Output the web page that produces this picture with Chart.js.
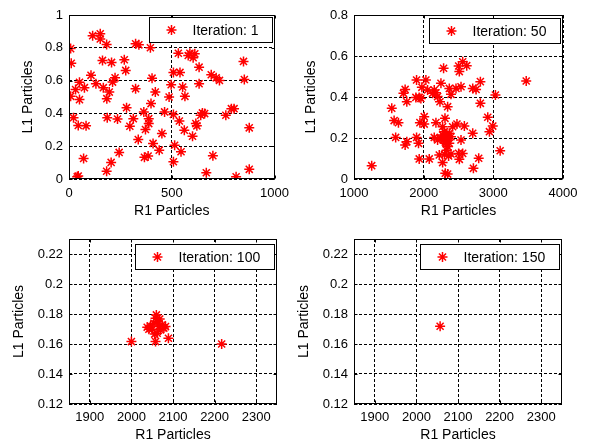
<!DOCTYPE html>
<html>
<head>
<meta charset="utf-8">
<script src="https://cdn.jsdelivr.net/npm/chart.js@4/dist/chart.umd.min.js"></script>
<style>
body { margin: 0; background: #fff; }
.cell { position: absolute; }
</style>
</head>
<body>
<div class="cell" style="left:0;top:0"><canvas id="c1" width="296" height="222"></canvas></div>
<div class="cell" style="left:296px;top:0"><canvas id="c2" width="300" height="222"></canvas></div>
<div class="cell" style="left:0;top:222px"><canvas id="c3" width="296" height="222"></canvas></div>
<div class="cell" style="left:296px;top:222px"><canvas id="c4" width="300" height="222"></canvas></div>
<script>
//Particle positions
var it1X = [8, 11, 8, 22, 32, 51, 51, 45, 40, 45, 75, 83, 71, 107, 115, 152, 152, 183, 163, 131,
  167, 184, 196, 207, 212, 224, 186, 236, 244, 205, 183, 269, 276, 280, 296, 313, 324, 324, 340, 337,
  364, 372, 367, 385, 388, 388, 396, 399, 404, 409, 420, 439, 452, 465, 487, 497, 508, 508, 514, 508,
  532, 540, 537, 545, 553, 561, 564, 580, 588, 604, 612, 601, 617, 622, 633, 633, 641, 649, 660, 668,
  692, 700, 716, 732, 763, 790, 803, 813, 849, 853, 877, 877];
var it1Y = [0.795, 0.706, 0.504, 0.374, 0.545, 0.59, 0.484, 0.326, 0.014, 0.018, 0.557, 0.324, 0.125, 0.632, 0.874, 0.885, 0.854, 0.82, 0.723, 0.581,
  0.557, 0.49, 0.53, 0.711, 0.591, 0.617, 0.374, 0.366, 0.162, 0.101, 0.047, 0.727, 0.662, 0.435, 0.322, 0.368, 0.551, 0.824, 0.818, 0.241,
  0.409, 0.302, 0.132, 0.14, 0.368, 0.338, 0.80, 0.46, 0.615, 0.217, 0.53, 0.176, 0.277, 0.409, 0.5, 0.575, 0.65, 0.393, 0.206, 0.105,
  0.767, 0.65, 0.354, 0.166, 0.561, 0.298, 0.504, 0.753, 0.767, 0.739, 0.763, 0.261, 0.338, 0.324, 0.682, 0.581, 0.389, 0.403, 0.399, 0.038,
  0.636, 0.142, 0.617, 0.601, 0.389, 0.429, 0.429, 0.014, 0.717, 0.607, 0.312, 0.059];

var it50X = [1254, 1542, 1576, 1638, 1598, 1734, 1710, 1758, 1758, 1734, 1898, 1888, 1936, 1960, 1974, 2008, 2032, 2056, 1946, 2008,
  1898, 1926, 1936, 2080, 2128, 2152, 2176, 2200, 2176, 2152, 2200, 2224, 2234, 2248, 2272, 2286, 2306, 2344, 2368, 2392,
  2310, 2344, 2272, 2296, 2320, 2344, 2368, 2320, 2272, 2248, 2368, 2392, 2344, 2392, 2358, 2416, 2464, 2478, 2502, 2512,
  2536, 2560, 2618, 2502, 2512, 2536, 2560, 2584, 2704, 2714, 2752, 2814, 2790, 2814, 2920, 2944, 2992, 3030, 3098, 3472,
  2704, 2290, 2330, 2310, 2350, 2280, 2330, 2300];
var it50Y = [0.065, 0.345, 0.285, 0.275, 0.203, 0.437, 0.418, 0.377, 0.182, 0.166, 0.483, 0.398, 0.398, 0.393, 0.447, 0.304, 0.483, 0.434, 0.275, 0.268,
  0.203, 0.174, 0.098, 0.098, 0.418, 0.434, 0.421, 0.402, 0.275, 0.203, 0.19, 0.117, 0.377, 0.467, 0.08, 0.54, 0.296, 0.353, 0.442, 0.413,
  0.028, 0.024, 0.255, 0.231, 0.206, 0.19, 0.174, 0.174, 0.215, 0.198, 0.223, 0.206, 0.158, 0.122, 0.112, 0.255, 0.442, 0.268, 0.551, 0.524,
  0.45, 0.572, 0.553, 0.125, 0.096, 0.19, 0.125, 0.258, 0.223, 0.052, 0.437, 0.475, 0.101, 0.369, 0.301, 0.231, 0.258, 0.41, 0.138, 0.478,
  0.442, 0.21, 0.22, 0.18, 0.2, 0.19, 0.14, 0.12];

var it100X = [2000, 2058, 2089, 2217, 2038, 2046, 2050, 2054, 2058, 2062, 2066, 2070, 2074, 2078, 2062, 2056, 2082, 2042, 2060, 2068];
var it100Y = [0.1616, 0.1616, 0.1638, 0.160, 0.1712, 0.172, 0.1698, 0.1738, 0.1772, 0.175, 0.1716, 0.1694, 0.1728, 0.1706, 0.1672, 0.1666, 0.1716, 0.1698, 0.1794, 0.1766];

var it150X = [2057];
var it150Y = [0.1718];

//Axis limits and ticks
var xLim1 = [0, 1000], xTicks1 = [0, 500, 1000];
var yLim1 = [0, 1], yTicks1 = [0, 0.2, 0.4, 0.6, 0.8, 1];
var xLim2 = [1000, 4000], xTicks2 = [1000, 2000, 3000, 4000];
var yLim2 = [0, 0.8], yTicks2 = [0, 0.2, 0.4, 0.6, 0.8];
var xLimZoom = [1850, 2350], xTicksZoom = [1900, 2000, 2100, 2200, 2300];
var yLimZoom = [0.12, 0.23], yTicksZoom = [0.12, 0.14, 0.16, 0.18, 0.2, 0.22];

var FONT = '"Liberation Sans", Arial, sans-serif';
Chart.defaults.font.family = FONT;
Chart.defaults.color = '#000';

function toPoints(xs, ys) {
  return xs.map(function(x, i) { return {x: x, y: ys[i]}; });
}

function fmt(v) {
  return String(parseFloat(v.toFixed(4)));
}

//draws the matlab style box, inward ticks and legend
var matlabBox = {
  id: 'matlabBox',
  afterDraw: function(chart, args, opts) {
    var ctx = chart.ctx;
    var a = chart.chartArea;
    var l = Math.round(a.left) + 0.5, r = Math.round(a.right) - 0.5;
    var t = Math.round(a.top) + 0.5, b = Math.round(a.bottom) - 0.5;
    ctx.save();
    ctx.strokeStyle = '#000';
    ctx.lineWidth = 1;
    ctx.setLineDash([]);
    ctx.strokeRect(l, t, r - l, b - t);

    //inward ticks
    ctx.beginPath();
    chart.scales.x.ticks.forEach(function(tk) {
      var px = Math.round(chart.scales.x.getPixelForValue(tk.value)) + 0.5;
      ctx.moveTo(px, b); ctx.lineTo(px, b - 3);
      ctx.moveTo(px, t); ctx.lineTo(px, t + 3);
    });
    chart.scales.y.ticks.forEach(function(tk) {
      var py = Math.round(chart.scales.y.getPixelForValue(tk.value)) + 0.5;
      ctx.moveTo(l, py); ctx.lineTo(l + 3, py);
      ctx.moveTo(r, py); ctx.lineTo(r - 3, py);
    });
    ctx.stroke();

    //legend
    var label = chart.data.datasets[0].label;
    ctx.font = '14px ' + FONT;
    var tw = ctx.measureText(label).width;
    var h = 25;
    var w = Math.round(43 + tw + 14);
    var x1 = Math.round(a.right) - 3 - w + 0.5;
    var y1 = Math.round(a.top) + opts.legendDy + 0.5;
    ctx.fillStyle = '#fff';
    ctx.fillRect(x1, y1, w, h);
    ctx.strokeRect(x1, y1, w, h);
    var mx = x1 + 22, my = y1 + h / 2, mr = 5;
    ctx.strokeStyle = 'rgb(255,0,0)';
    ctx.lineWidth = 1.5;
    ctx.beginPath();
    ctx.moveTo(mx - mr, my); ctx.lineTo(mx + mr, my);
    ctx.moveTo(mx, my - mr); ctx.lineTo(mx, my + mr);
    var d = mr * Math.SQRT1_2;
    ctx.moveTo(mx - d, my - d); ctx.lineTo(mx + d, my + d);
    ctx.moveTo(mx - d, my + d); ctx.lineTo(mx + d, my - d);
    ctx.stroke();
    ctx.fillStyle = '#000';
    ctx.textBaseline = 'middle';
    ctx.textAlign = 'left';
    ctx.fillText(label, x1 + 43, my + 1);
    ctx.restore();
  }
};

function makeChart(id, xs, ys, label, lay) {
  var ctx = document.getElementById(id).getContext('2d');
  return new Chart(ctx, {
    type: 'scatter',
    data: {
      datasets: [{
        label: label,
        data: toPoints(xs, ys),
        pointStyle: 'star',
        radius: 5,
        borderWidth: 1.5,
        borderColor: 'rgb(255,0,0)',
        backgroundColor: 'rgb(255,0,0)'
      }]
    },
    plugins: [matlabBox],
    options: {
      responsive: false,
      animation: false,
      events: [],
      layout: { padding: { left: 0, top: lay.top, right: lay.right, bottom: 0 } },
      plugins: {
        legend: { display: false },
        tooltip: { enabled: false },
        matlabBox: { legendDy: lay.legendDy }
      },
      scales: {
        x: {
          type: 'linear',
          min: lay.xLim[0],
          max: lay.xLim[1],
          afterBuildTicks: function(s) { s.ticks = lay.xTicks.map(function(v) { return {value: v}; }); },
          afterFit: function(s) { s.height = lay.xH; },
          ticks: { padding: lay.xPad, font: { size: 13 }, maxRotation: 0, autoSkip: false, callback: fmt },
          grid: { color: '#000', lineWidth: 1, drawTicks: false },
          border: { display: false, dash: [3, 2] },
          title: { display: true, text: 'R1 Particles', font: { size: 14 }, padding: { top: 0, bottom: lay.xTitlePad } }
        },
        y: {
          type: 'linear',
          min: lay.yLim[0],
          max: lay.yLim[1],
          afterBuildTicks: function(s) { s.ticks = lay.yTicks.map(function(v) { return {value: v}; }); },
          afterFit: function(s) { s.width = lay.left; },
          ticks: { padding: 6, font: { size: 13 }, autoSkip: false, callback: fmt },
          grid: { color: '#000', lineWidth: 1, drawTicks: false },
          border: { display: false, dash: [3, 2] },
          title: { display: true, text: 'L1 Particles', font: { size: 14 }, padding: { top: lay.yTitlePad, bottom: 0 } }
        }
      }
    }
  });
}

makeChart('c1', it1X, it1Y, 'Iteration: 1', {
  left: 69, right: 19, top: 15, xH: 43, xPad: 7, xTitlePad: 2, yTitlePad: 20, legendDy: 2,
  xLim: xLim1, xTicks: xTicks1, yLim: yLim1, yTicks: yTicks1
});
makeChart('c2', it50X, it50Y, 'Iteration: 50', {
  left: 58, right: 33, top: 15, xH: 43, xPad: 7, xTitlePad: 2, yTitlePad: 7, legendDy: 3,
  xLim: xLim2, xTicks: xTicks2, yLim: yLim2, yTicks: yTicks2
});
makeChart('c3', it100X, it100Y, 'Iteration: 100', {
  left: 69, right: 19, top: 17, xH: 40, xPad: 6, xTitlePad: 0, yTitlePad: 11, legendDy: 5,
  xLim: xLimZoom, xTicks: xTicksZoom, yLim: yLimZoom, yTicks: yTicksZoom
});
makeChart('c4', it150X, it150Y, 'Iteration: 150', {
  left: 58, right: 34, top: 17, xH: 40, xPad: 6, xTitlePad: 0, yTitlePad: 0, legendDy: 5,
  xLim: xLimZoom, xTicks: xTicksZoom, yLim: yLimZoom, yTicks: yTicksZoom
});
</script>
</body>
</html>
